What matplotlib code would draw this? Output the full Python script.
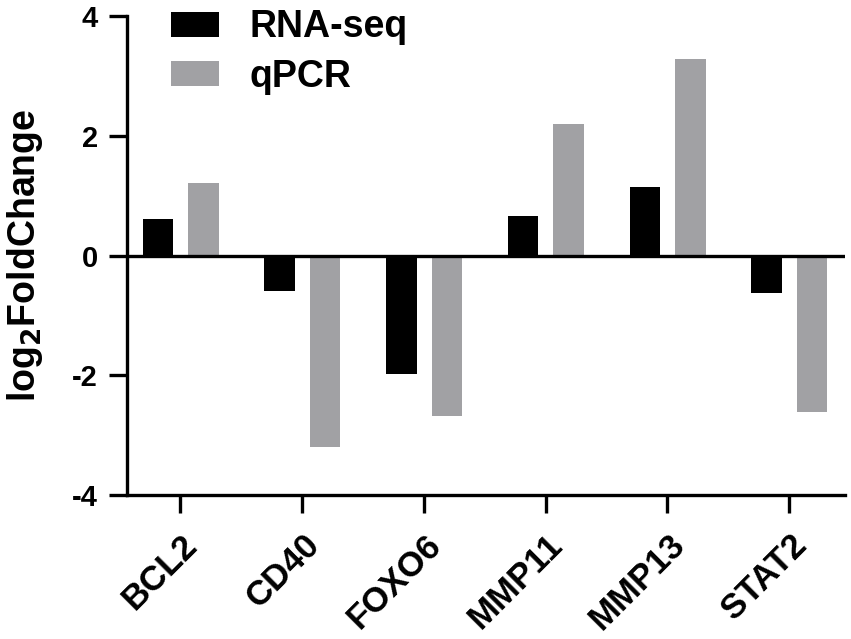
import matplotlib
matplotlib.use("Agg")
import matplotlib.pyplot as plt
import matplotlib.transforms as mtransforms
import numpy as np

genes = ["BCL2", "CD40", "FOXO6", "MMP11", "MMP13", "STAT2"]
rna_seq = [0.61, -0.59, -1.97, 0.66, 1.15, -0.63]
qpcr = [1.22, -3.20, -2.67, 2.20, 3.29, -2.61]

plt.rcParams['font.family'] = ['Liberation Sans', 'DejaVu Sans']
plt.rcParams['font.weight'] = 'bold'
plt.rcParams['axes.unicode_minus'] = False

fig = plt.figure(figsize=(8.51, 6.39), dpi=100)
ax = fig.add_axes([0.149, 0.225, 0.844, 0.75])

x = np.arange(len(genes))
ax.bar(x - 0.185, rna_seq, width=0.25, color='black', label='RNA-seq')
ax.bar(x + 0.19, qpcr, width=0.25, color='#a1a1a4', label='qPCR')
ax.axhline(0, color='black', linewidth=2.4, zorder=3)

ax.set_xlim(-0.44, 5.46)
ax.set_ylim(-4, 4)
ax.set_yticks([-4, -2, 0, 2, 4])
ax.set_yticklabels(['-4', '-2', '0', '2', '4'], fontsize=21, fontweight='bold')
ax.set_xticks(x)
ax.set_xticklabels(genes, rotation=45, ha='right', va='center',
                   rotation_mode='anchor', fontsize=25, fontweight='bold')
ax.tick_params(axis='y', length=13, width=2.4, pad=8)
ax.tick_params(axis='x', length=13, width=2.4, pad=19)

# nudge the rotated gene names right a little
shift = mtransforms.ScaledTranslation(12 / 100, 0, fig.dpi_scale_trans)
for lab in ax.get_xticklabels():
    lab.set_transform(lab.get_transform() + shift)

ax.spines['top'].set_visible(False)
ax.spines['right'].set_visible(False)
ax.spines['left'].set_linewidth(2.4)
ax.spines['bottom'].set_linewidth(2.4)

ax.set_ylabel("log$_2$FoldChange", fontsize=27, fontweight='bold', labelpad=19)

ax.legend(loc='upper left', bbox_to_anchor=(0.04, 1.045), frameon=False,
          fontsize=27, handlelength=1.3, handleheight=0.65,
          handletextpad=0.8, labelspacing=0.35, borderaxespad=0)

fig.savefig("out.png", dpi=100)
